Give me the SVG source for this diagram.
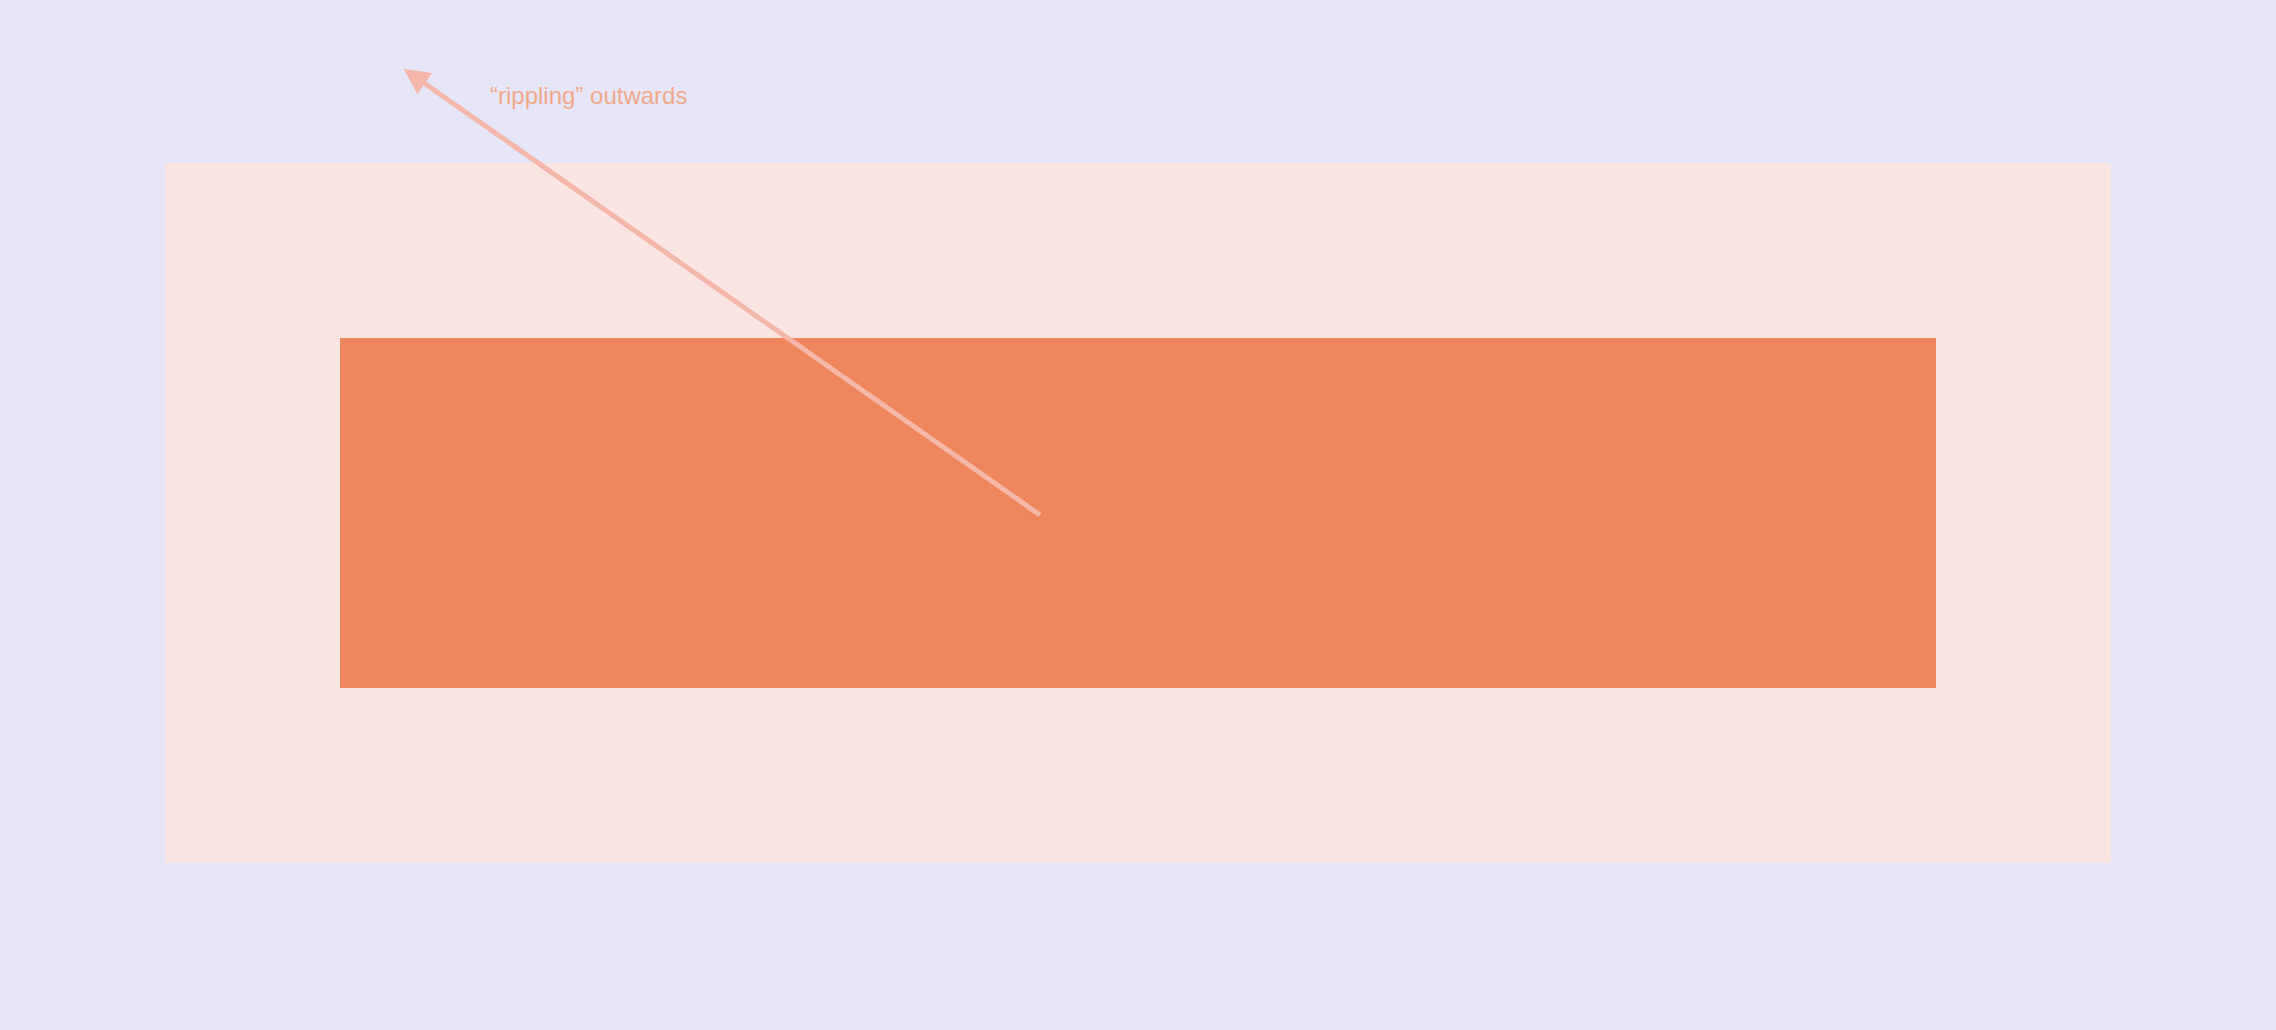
<svg xmlns="http://www.w3.org/2000/svg" width="2276" height="1030" viewBox="0 0 2276 1030">
<style>
.lbl{font-family:"Liberation Sans",Arial,sans-serif;font-size:24px;fill:#F2A888}
.conn{stroke:#F5B7AA;stroke-width:5;fill:none}
</style>
<defs>
<marker id="ah" markerUnits="userSpaceOnUse" markerWidth="28" markerHeight="26" refX="1" refY="13" orient="auto">
<path d="M0,0 L26,13 L0,26 Z" fill="#F5B7AA"/>
</marker>
</defs>
<rect x="0" y="0" width="2276" height="1030" fill="#E6E6F8"/>
<g id="outer"><rect x="165" y="163" width="1946" height="700" fill="#FAE5E2"/></g>
<g id="inner"><rect x="340" y="338" width="1596" height="350" fill="#EF865E"/></g>
<g id="connectors"><line class="conn" x1="1040" y1="515" x2="424" y2="83" marker-end="url(#ah)"/></g>
<g id="label"><text class="lbl" x="490" y="104">“rippling” outwards</text></g>
</svg>
